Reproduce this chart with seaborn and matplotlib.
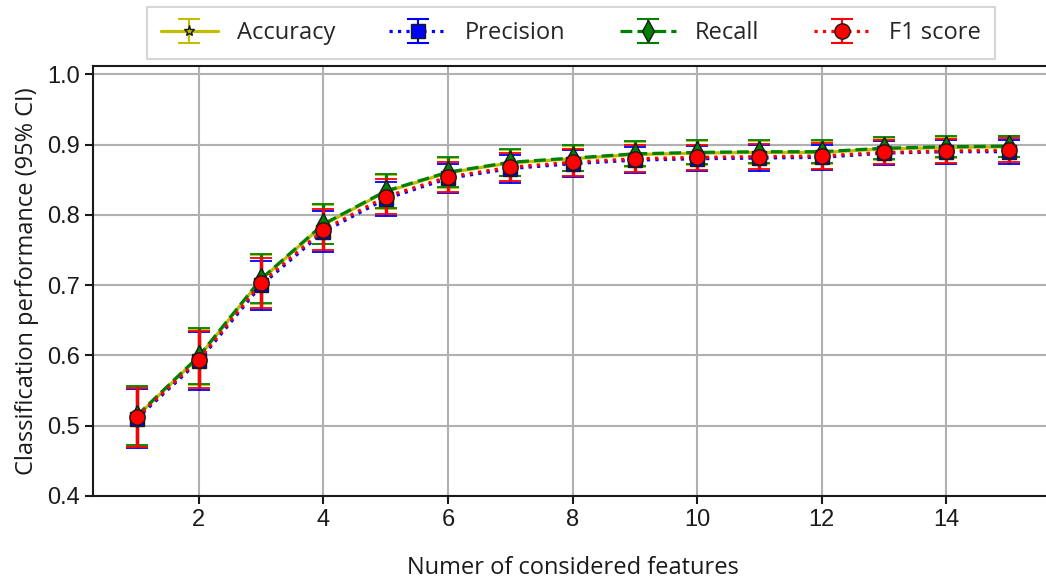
import numpy as np
import pandas as pd
import matplotlib
matplotlib.use("Agg")
import matplotlib.pyplot as plt
import seaborn as sns

features = list(range(1, 16))
accuracy = [0.513, 0.598, 0.708, 0.786, 0.833, 0.860, 0.874, 0.880, 0.886, 0.888, 0.889, 0.889, 0.894, 0.896, 0.897]
precision = [0.510, 0.592, 0.700, 0.776, 0.823, 0.852, 0.866, 0.873, 0.878, 0.880, 0.881, 0.882, 0.888, 0.890, 0.890]
recall = [0.514, 0.599, 0.709, 0.787, 0.834, 0.861, 0.875, 0.881, 0.887, 0.889, 0.890, 0.890, 0.895, 0.897, 0.898]
f1 = [0.512, 0.594, 0.703, 0.779, 0.826, 0.854, 0.868, 0.875, 0.880, 0.882, 0.883, 0.884, 0.889, 0.891, 0.892]
err_acc = [0.042, 0.040, 0.035, 0.028, 0.024, 0.021, 0.019, 0.018, 0.018, 0.017, 0.016, 0.016, 0.016, 0.015, 0.015]
err_prec = [0.042, 0.041, 0.035, 0.029, 0.024, 0.021, 0.020, 0.019, 0.019, 0.018, 0.018, 0.018, 0.017, 0.017, 0.017]
err_rec = [0.042, 0.040, 0.035, 0.028, 0.024, 0.021, 0.019, 0.018, 0.018, 0.017, 0.016, 0.016, 0.016, 0.015, 0.015]
err_f1 = [0.042, 0.041, 0.036, 0.029, 0.025, 0.022, 0.020, 0.019, 0.019, 0.018, 0.018, 0.018, 0.017, 0.017, 0.017]

series_names = ["Accuracy", "Precision", "Recall", "F1 score"]
series_vals = [accuracy, precision, recall, f1]
series_errs = [err_acc, err_prec, err_rec, err_f1]
colors = ["#bfbf00", "#0000ff", "#008000", "#ff0000"]
styles = ["-", ":", "--", ":"]
markers = ["*", "s", "d", "o"]
msizes = [8, 10, 11, 11]

sns.set_theme(style="ticks")
plt.rcParams["font.family"] = ["Liberation Sans", "DejaVu Sans"]

fig = plt.figure(figsize=(10.46, 5.79), dpi=100)
ax = fig.add_axes([0.0889, 0.1434, 0.917, 0.7426])

df = pd.DataFrame({"features": features})
handles = []
for name, vals, errs, c, ls, mk, ms in zip(series_names, series_vals, series_errs, colors, styles, markers, msizes):
    df[name] = vals
    sns.lineplot(data=df, x="features", y=name, ax=ax, color=c, linestyle=ls, linewidth=2.3,
                 marker=mk, markersize=ms, markeredgecolor="k", markeredgewidth=1.0,
                 markerfacecolor=c, zorder=3)
    ax.errorbar(features, vals, yerr=errs, fmt="none", ecolor=c, elinewidth=2.3,
                capsize=8, capthick=1.3, zorder=2.5)
    h = ax.errorbar([np.nan], [np.nan], yerr=[np.nan], fmt=mk, linestyle=ls, color=c,
                    linewidth=2.3, markersize=ms, markeredgecolor="k", markerfacecolor=c,
                    ecolor=c, elinewidth=1.5, capsize=8, capthick=1.5, label=name)
    handles.append(h)

ax.set_xlim(0.3, 15.7)
ax.set_ylim(0.4, 1.012)
ax.set_xticks([2, 4, 6, 8, 10, 12, 14])
ax.set_yticks([0.4, 0.5, 0.6, 0.7, 0.8, 0.9, 1.0])
ax.set_yticklabels(["0.4", "0.5", "0.6", "0.7", "0.8", "0.9", "1.0"])
ax.tick_params(axis="both", labelsize=17, length=6, width=1.5, color="k", labelcolor="k")
ax.grid(True, color="#b0b0b0", linewidth=1.5)
ax.set_axisbelow(True)
for s in ax.spines.values():
    s.set_color("k")
    s.set_linewidth(1.5)

lab_font = ["Open Sans", "DejaVu Sans"]
ax.set_xlabel("Numer of considered features", fontsize=17, family=lab_font, color="k", labelpad=18)
ax.set_ylabel("Classification performance (95% CI)", fontsize=17, family=lab_font, color="k", labelpad=6)

leg = ax.legend(handles=handles, labels=series_names, loc="upper center",
                bbox_to_anchor=(0.4985, 1.165), ncol=4, frameon=True,
                fancybox=False, edgecolor="#cccccc", handlelength=2.4, columnspacing=2.3,
                handletextpad=0.8, borderpad=0.6, prop={"family": lab_font, "size": 17})
leg.get_frame().set_linewidth(1.5)

fig.savefig("out.png", dpi=100)
